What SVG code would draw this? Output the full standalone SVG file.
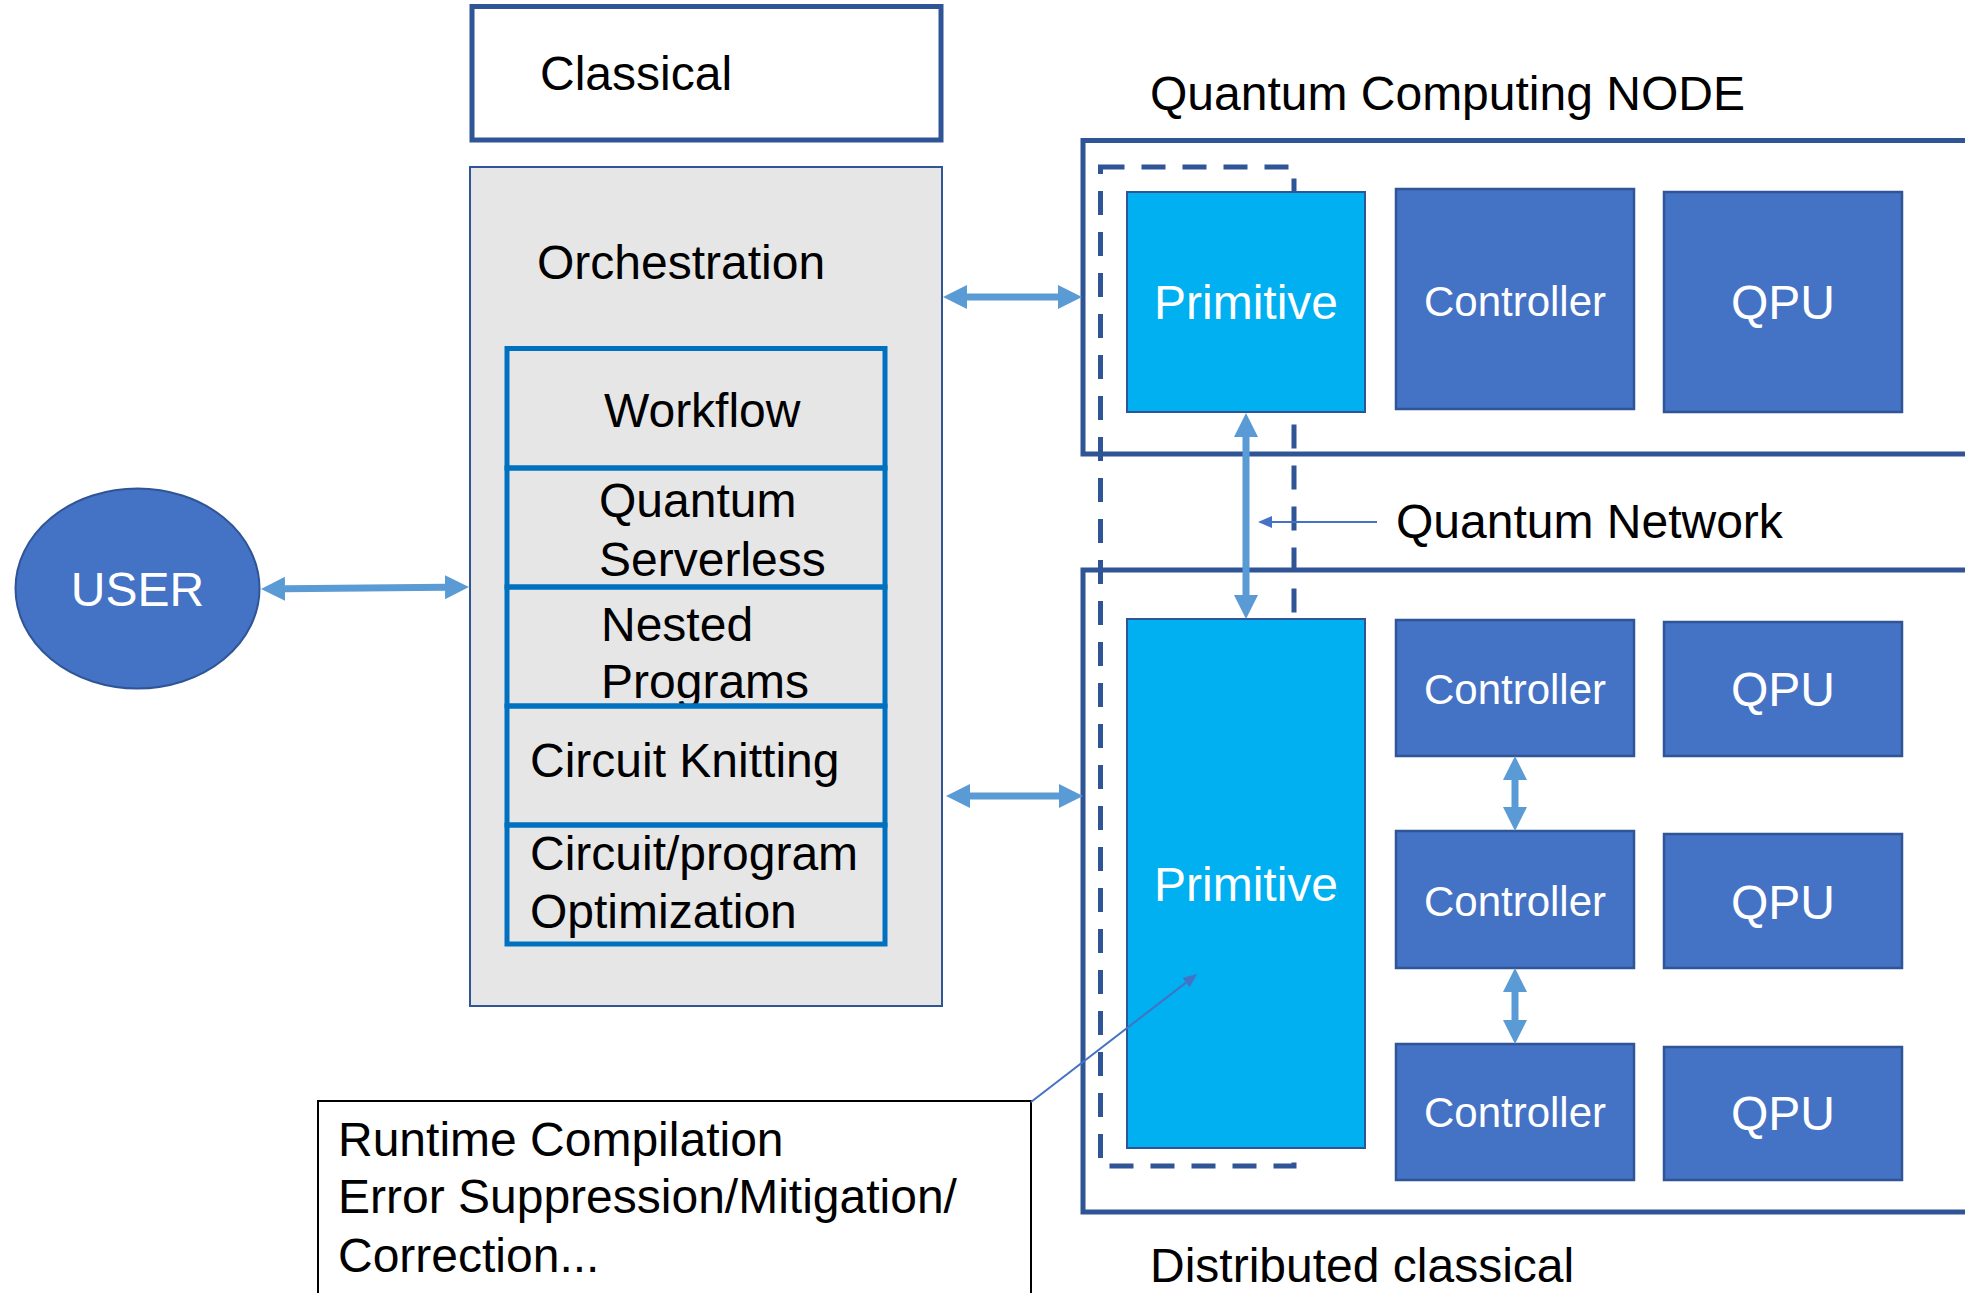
<svg xmlns="http://www.w3.org/2000/svg" width="1965" height="1293" viewBox="0 0 1965 1293">
<defs>
<style>
text{font-family:"Liberation Sans",Arial,sans-serif;font-size:48px;fill:#000}
.w{fill:#fff}
.ctl{font-size:42px}
.frame{fill:none;stroke:#2F5597;stroke-width:5}
.inner{fill:none;stroke:#0070C0;stroke-width:5}
.prim{fill:#00B0F0;stroke:#2F5597;stroke-width:2}
.blk{fill:#4472C4;stroke:#2F5597;stroke-width:2.5}
.arr{stroke:#5B9BD5;stroke-width:7;fill:none;marker-start:url(#ah);marker-end:url(#ah)}
.thin{stroke:#4472C4;stroke-width:2;fill:none;marker-end:url(#sh)}
</style>
<marker id="ah" markerUnits="userSpaceOnUse" markerWidth="24" markerHeight="24" refX="0" refY="12" orient="auto-start-reverse" viewBox="0 0 24 24"><path d="M0,0 L24,12 L0,24 z" fill="#5B9BD5"/></marker>
<marker id="sh" markerUnits="userSpaceOnUse" markerWidth="14" markerHeight="12" refX="0" refY="6" orient="auto" viewBox="0 0 14 12"><path d="M0,0 L14,6 L0,12 z" fill="#4472C4"/></marker>
</defs>
<rect width="1965" height="1293" fill="#fff"/>

<g id="classical"><rect x="472" y="6.5" width="469" height="133.5" class="frame"/><text x="540" y="90">Classical</text></g>

<g id="orchestration"><rect x="470" y="167" width="472" height="839" fill="#E7E6E6" stroke="#2F5597" stroke-width="2"/><text x="537" y="279">Orchestration</text></g>
<g id="workflow"><text x="604" y="427">Workflow</text><rect x="507" y="348.5" width="378" height="119.5" class="inner"/></g>
<g id="serverless"><text x="599" y="517">Quantum</text><text x="599" y="576">Serverless</text><rect x="507" y="468" width="378" height="119" class="inner"/></g>
<g id="nested"><text x="601" y="641">Nested</text><text x="601" y="698">Programs</text><rect x="507" y="587" width="378" height="119" class="inner"/></g>
<g id="knitting"><text x="530" y="777">Circuit Knitting</text><rect x="507" y="706" width="378" height="119" class="inner"/></g>
<g id="optimization"><text x="530" y="870">Circuit/program</text><text x="530" y="928">Optimization</text><rect x="507" y="825" width="378" height="119" class="inner"/></g>

<g id="user"><ellipse cx="137.5" cy="588.5" rx="122" ry="100" fill="#4472C4" stroke="#2F5597" stroke-width="2"/><text x="137.5" y="606" text-anchor="middle" class="w">USER</text></g>

<g id="qc-node"><text x="1150" y="110">Quantum Computing NODE</text><rect x="1083" y="140.5" width="1000" height="313.5" class="frame"/></g>
<g id="distributed"><rect x="1083" y="570" width="1000" height="642" class="frame"/><text x="1150" y="1282">Distributed classical</text></g>
<g id="dashed-group"><rect x="1100.5" y="167" width="193.5" height="999" fill="none" stroke="#2F5597" stroke-width="5" stroke-dasharray="24 17"/></g>

<g id="primitive-top"><rect x="1127" y="192" width="238" height="220" class="prim"/><text x="1246" y="319" text-anchor="middle" class="w">Primitive</text></g>
<g id="controller-top"><rect x="1396" y="189" width="238" height="220" class="blk"/><text x="1515" y="316" text-anchor="middle" class="w ctl">Controller</text></g>
<g id="qpu-top"><rect x="1664" y="192" width="238" height="220" class="blk"/><text x="1783" y="319" text-anchor="middle" class="w">QPU</text></g>

<g id="primitive-bottom"><rect x="1127" y="619" width="238" height="529" class="prim"/><text x="1246" y="901" text-anchor="middle" class="w">Primitive</text></g>
<g id="controller-1"><rect x="1396" y="620" width="238" height="136" class="blk"/><text x="1515" y="704" text-anchor="middle" class="w ctl">Controller</text></g>
<g id="qpu-1"><rect x="1664" y="622" width="238" height="134" class="blk"/><text x="1783" y="706" text-anchor="middle" class="w">QPU</text></g>
<g id="controller-2"><rect x="1396" y="831" width="238" height="137" class="blk"/><text x="1515" y="916" text-anchor="middle" class="w ctl">Controller</text></g>
<g id="qpu-2"><rect x="1664" y="834" width="238" height="134" class="blk"/><text x="1783" y="919" text-anchor="middle" class="w">QPU</text></g>
<g id="controller-3"><rect x="1396" y="1044" width="238" height="136" class="blk"/><text x="1515" y="1127" text-anchor="middle" class="w ctl">Controller</text></g>
<g id="qpu-3"><rect x="1664" y="1047" width="238" height="133" class="blk"/><text x="1783" y="1130" text-anchor="middle" class="w">QPU</text></g>

<g id="quantum-network"><text x="1396" y="538">Quantum Network</text></g>

<g id="runtime-note"><rect x="318" y="1101" width="713" height="260" fill="#fff" stroke="#000" stroke-width="2"/><text x="338" y="1156">Runtime Compilation</text><text x="338" y="1213">Error Suppression/Mitigation/</text><text x="338" y="1272">Correction...</text></g>

<g id="connectors">
<line x1="285" y1="588.8" x2="445" y2="587.2" class="arr"/>
<line x1="967" y1="297" x2="1058" y2="297" class="arr"/>
<line x1="970" y1="796" x2="1059" y2="796" class="arr"/>
<line x1="1246" y1="437" x2="1246" y2="595" class="arr"/>
<line x1="1515" y1="780" x2="1515" y2="807" class="arr"/>
<line x1="1515" y1="992" x2="1515" y2="1020" class="arr"/>
<line x1="1377" y1="522" x2="1272" y2="522" class="thin"/>
<line x1="1031" y1="1102" x2="1186" y2="982.6" class="thin"/>
</g>
</svg>
